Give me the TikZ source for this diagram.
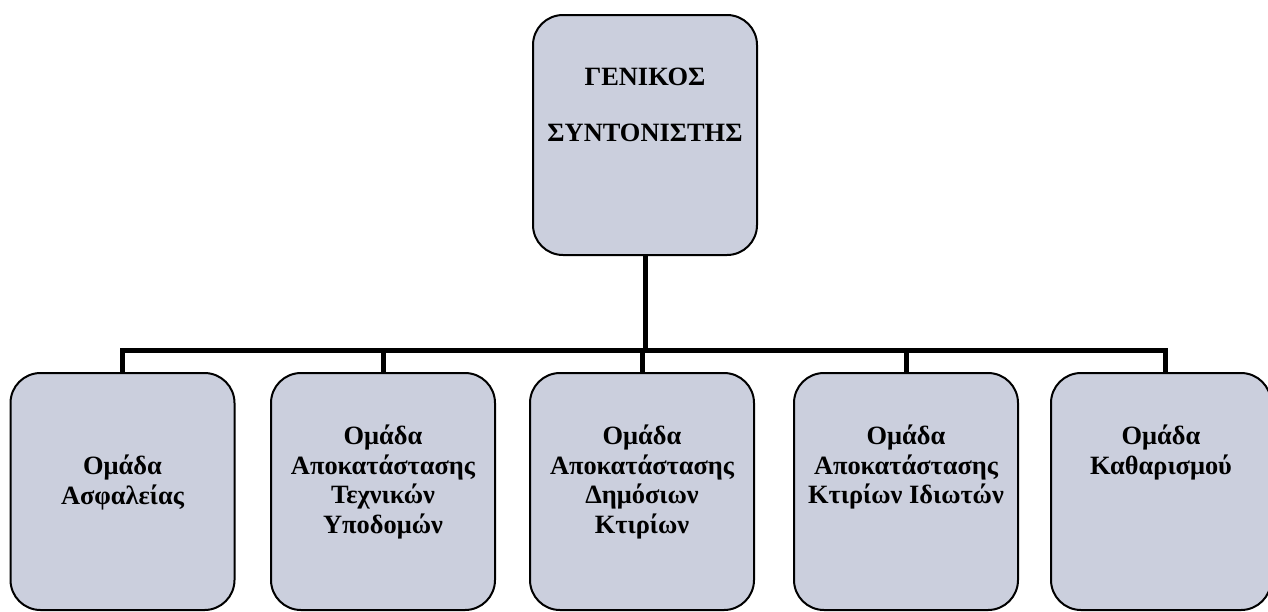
\documentclass[tikz,border=0pt]{standalone}
\usepackage{fontspec}
\setmainfont{Liberation Serif}
\usepackage{tikz}
\usetikzlibrary{positioning,calc}
\definecolor{boxfill}{RGB}{203,207,221}
\newcommand{\boxtext}[3]{\parbox[c][#1][t]{110pt}{\vspace*{#2}\centering #3}}
\tikzset{
team/.style={draw, line width=1pt, rounded corners=15pt, fill=boxfill,
  inner sep=0pt, minimum width=112pt, minimum height=118.5pt,
  font=\fontsize{13.2}{14.8}\selectfont\bfseries},
link/.style={line width=2.5pt}
}

\begin{document}
\begin{tikzpicture}[x=0.5pt, y=-0.5pt]
\clip (0,0) rectangle (1268,611);

\node [team, minimum height=120pt, font=\fontsize{13.2}{28}\selectfont\bfseries] at (645,135) (chief)
  {\boxtext{120pt}{26.5pt}{ΓΕΝΙΚΟΣ\\ΣΥΝΤΟΝΙΣΤΗΣ}};

\node [team] at (122.5,491.5) (t1) {\boxtext{118.5pt}{41pt}{Ομάδα\\Ασφαλείας}};
\node [team] at (383,491.5) (t2) {\boxtext{118.5pt}{26pt}{Ομάδα\\Αποκατάστασης\\Τεχνικών\\Υποδομών}};
\node [team] at (642,491.5) (t3) {\boxtext{118.5pt}{26pt}{Ομάδα\\Αποκατάστασης\\Δημόσιων\\Κτιρίων}};
\node [team] at (906,491.5) (t4) {\boxtext{118.5pt}{26pt}{Ομάδα\\Αποκατάστασης\\Κτιρίων Ιδιωτών}};
\node [team, minimum width=105.5pt] at (1161,491.5) (t5) {\boxtext{118.5pt}{26pt}{Ομάδα\\Καθαρισμού}};

\coordinate (bus) at (645,350);
\draw[link] (chief.south) -- (bus);
\draw[link] (t1.north) -- (t1.north |- bus) -- ([xshift=2pt]t5.north |- bus) -- ([xshift=2pt]t5.north);
\foreach \t in {t2,t3,t4}
  \draw[link] (\t.north) -- (\t.north |- bus);

\end{tikzpicture}
\end{document}
